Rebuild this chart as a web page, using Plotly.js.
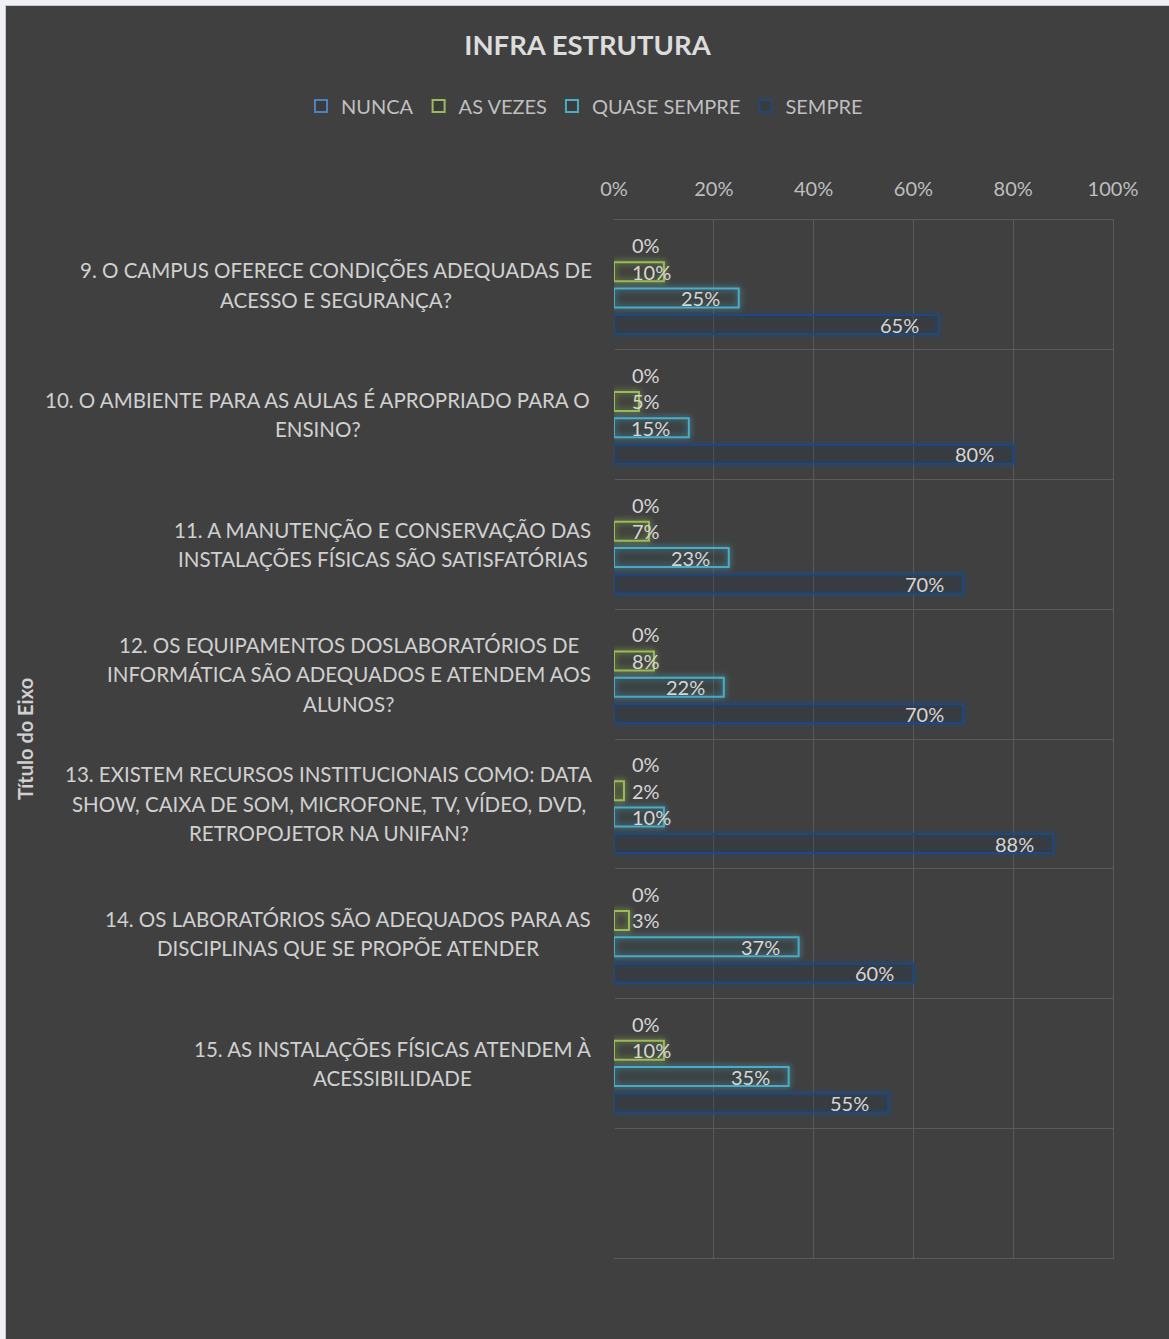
<!DOCTYPE html>
<html>
<head>
<meta charset="utf-8">
<script src="https://cdn.plot.ly/plotly-3.0.1.min.js"></script>
<style>
  html, body { margin: 0; padding: 0; background: #eef0f5; width: 1169px; height: 1339px; overflow: hidden; }
  #wrap { position: absolute; left: 5px; top: 5px; width: 1164px; height: 1334px; background: #c8c8c8; }
  #chart { position: absolute; left: 1px; top: 1px; width: 1163px; height: 1333px; }
</style>
</head>
<body>
<div id="wrap"><div id="chart"></div></div>
<script>
// ---- data ----
const categories = [
  "9. O CAMPUS OFERECE CONDIÇÕES ADEQUADAS DE<br>ACESSO E SEGURANÇA?",
  "10. O AMBIENTE PARA AS AULAS É APROPRIADO PARA O<br>ENSINO?",
  "11. A MANUTENÇÃO E CONSERVAÇÃO DAS<br>INSTALAÇÕES FÍSICAS SÃO SATISFATÓRIAS",
  "12. OS EQUIPAMENTOS DOSLABORATÓRIOS DE<br>INFORMÁTICA SÃO ADEQUADOS E ATENDEM AOS<br>ALUNOS?",
  "13. EXISTEM RECURSOS INSTITUCIONAIS COMO: DATA<br>SHOW, CAIXA DE SOM, MICROFONE, TV, VÍDEO, DVD,<br>RETROPOJETOR NA UNIFAN?",
  "14. OS LABORATÓRIOS SÃO ADEQUADOS PARA AS<br>DISCIPLINAS QUE SE PROPÕE ATENDER",
  "15. AS INSTALAÇÕES FÍSICAS ATENDEM À<br>ACESSIBILIDADE"
];
const seriesNames = ["NUNCA", "AS VEZES", "QUASE SEMPRE", "SEMPRE"];
const nunca       = [0, 0, 0, 0, 0, 0, 0];
const asVezes     = [10, 5, 7, 8, 2, 3, 10];
const quaseSempre = [25, 15, 23, 22, 10, 37, 35];
const sempre      = [65, 80, 70, 70, 88, 60, 55];
const xTickVals   = [0, 20, 40, 60, 80, 100];
const xTickText   = ["0%", "20%", "40%", "60%", "80%", "100%"];
const chartTitle  = "INFRA ESTRUTURA";
const axisTitle   = "Título do Eixo";

// ---- styling ----
const seriesValues = [nunca, asVezes, quaseSempre, sempre];
const seriesColors = ["#4F81BD", "#9BBB59", "#4BACC6", "#1F497D"];
const BG = "#404040";
const GRID = "#5a5a5a";
const FONT = "Lato, 'Open Sans', sans-serif";
const CAT_SIZE = 20.5;
const W = 1163, H = 1333;
const M = { l: 608, r: 56, t: 214, b: 81 };
const plotW = W - M.l - M.r;
const bargap = 0.185, bargroupgap = 0.28;
const nSlots = categories.length + 1; // one empty slot at the bottom

const idx = categories.map((_, i) => i);

const traces = seriesValues.map((vals, k) => ({
  type: "bar",
  orientation: "h",
  name: seriesNames[k],
  x: vals,
  y: idx,
  marker: {
    color: "rgba(0,0,0,0.07)",
    line: { color: seriesColors[k], width: vals.map(v => (v === 0 ? 0 : 2)) }
  },
  hoverinfo: "skip"
}));

// text measurement for centering multi-line category blocks
const ctx = document.createElement("canvas").getContext("2d");
ctx.font = CAT_SIZE + "px Lato";

const annotations = [];
categories.forEach((c, i) => {
  const lines = c.split("<br>");
  const maxW = Math.max(...lines.map(l => ctx.measureText(l).width));
  lines.forEach((ln, j) => {
    annotations.push({
      xref: "paper", yref: "y", x: 0, y: i,
      xanchor: "center", yanchor: "middle", xshift: -22 - maxW / 2,
      yshift: ((lines.length - 1) / 2 - j) * 29.5,
      text: ln, showarrow: false, align: "center",
      font: { family: FONT, size: CAT_SIZE, color: "#d0d0d0" }
    });
  });
});
// data labels
const nSeries = seriesValues.length;
const slotW = (1 - bargap) / nSeries;
const pxPerUnit = plotW / 100;
const lctx = document.createElement("canvas").getContext("2d");
lctx.font = "20px Lato";
seriesValues.forEach((vals, k) => {
  vals.forEach((v, i) => {
    const txt = v + "%";
    const w = lctx.measureText(txt).width;
    const inside = v * pxPerUnit - 17 - w >= 16;
    annotations.push({
      xref: "x", yref: "y",
      x: inside ? v : 0,
      y: i + (k - (nSeries - 1) / 2) * slotW,
      xanchor: inside ? "right" : "left",
      xshift: inside ? -17 : 16,
      yanchor: "middle",
      text: txt, showarrow: false,
      font: { family: FONT, size: 20, color: "#d6d6d6" }
    });
  });
});
// axis title
annotations.push({
  xref: "paper", yref: "paper", x: (19 - M.l) / plotW, y: 0.5,
  xanchor: "center", yanchor: "middle", textangle: -90,
  text: "<b>" + axisTitle + "</b>", showarrow: false,
  font: { family: FONT, size: 20, color: "#d0d0d0" }
});

const boundaries = [];
for (let b = -0.5; b <= nSlots - 0.5; b += 1) boundaries.push(b);

const layout = {
  width: W, height: H,
  paper_bgcolor: BG, plot_bgcolor: BG,
  margin: M,
  font: { family: FONT, color: "#bfbfbf" },
  title: {
    text: chartTitle, x: 0.5, xref: "container", xanchor: "center",
    y: 1 - 39 / H, yref: "container", yanchor: "middle",
    font: { family: FONT, size: 27.5, color: "#dcdcdc", weight: "bold" }
  },
  showlegend: true,
  legend: {
    orientation: "h", xref: "paper", yref: "container",
    x: (295 - M.l) / plotW, xanchor: "left", y: 1 - 100 / H, yanchor: "middle",
    font: { family: FONT, size: 20, color: "#bfbfbf" },
    bgcolor: "rgba(0,0,0,0)", traceorder: "normal", itemclick: false
  },
  barmode: "group", bargap: bargap, bargroupgap: bargroupgap,
  xaxis: {
    side: "top", range: [0, 100], tickmode: "array", tickvals: xTickVals, ticktext: xTickText,
    showgrid: true, gridcolor: GRID, gridwidth: 1,
    zeroline: true, zerolinecolor: BG, zerolinewidth: 2,
    showline: true, mirror: true, linecolor: GRID, linewidth: 1,
    ticks: "", ticklabelstandoff: 15,
    tickfont: { family: FONT, size: 20, color: "#bfbfbf" },
    fixedrange: true
  },
  yaxis: {
    side: "right",
    range: [nSlots - 0.5, -0.5], tickmode: "array", tickvals: boundaries,
    showticklabels: false, ticks: "",
    showgrid: true, gridcolor: GRID, gridwidth: 1,
    showline: true, linecolor: GRID, linewidth: 1,
    zeroline: false, fixedrange: true
  },
  annotations: annotations
};

Plotly.newPlot("chart", traces, layout, { staticPlot: true, displayModeBar: false }).then(gd => {
  gd.querySelectorAll(".barlayer .trace").forEach((t, k) => {
    t.style.filter = "drop-shadow(0 0 3px " + seriesColors[k] + ")";
  });
  gd.querySelectorAll(".legend .traces").forEach((t, k) => {
    t.querySelectorAll(".legendpoints path").forEach(p => {
      p.style.stroke = seriesColors[k];
      p.style.strokeWidth = "2px";
    });
  });
});
</script>
</body>
</html>
